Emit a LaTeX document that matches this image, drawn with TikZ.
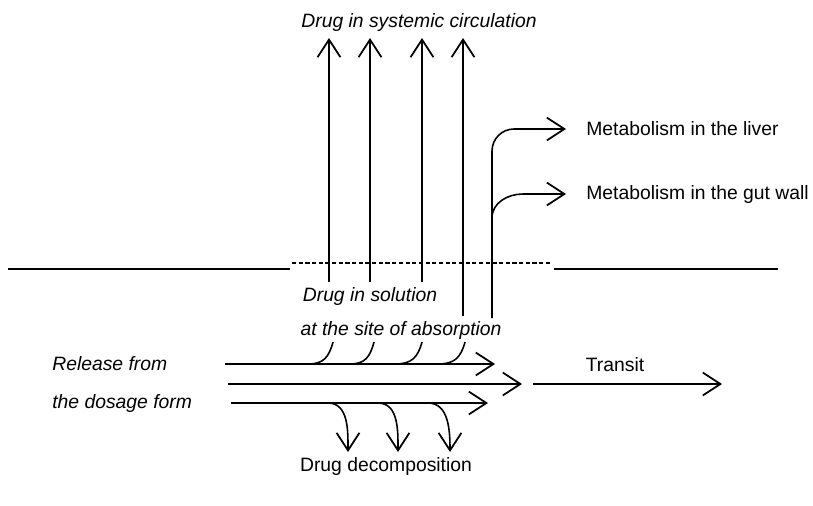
\documentclass[tikz,border=0pt]{standalone}
\usepackage{fontspec}
\setmainfont{Liberation Sans}
\usetikzlibrary{arrows.meta}

\begin{document}
\begin{tikzpicture}
[
x=0.02cm, y=-0.02cm,
flow/.style={line width=0.9pt,-{Straight Barb[length=10pt,width=13pt,line width=1pt]}},
hook/.style={line width=0.9pt},
membrane/.style={line width=1.5pt},
pore/.style={line width=0.8pt,dash pattern=on 2.4pt off 1.4pt},
lbl/.style={inner sep=0pt,font=\fontsize{11}{13}\selectfont},
ilbl/.style={inner sep=0pt,font=\fontsize{11}{13}\selectfont\itshape},
]
\useasboundingbox (0,0) rectangle (813,505);

%Place the nodes
\node[ilbl] (circ) at (419,22) {Drug in systemic circulation};
\node[lbl,anchor=west] (liver) at (586,129) {Metabolism in the liver};
\node[lbl,anchor=west] (gut) at (586,194) {Metabolism in the gut wall};
\node[ilbl] (sol) at (370,296) {Drug in solution};
\node[ilbl] (site) at (401,330) {at the site of absorption};
\node[ilbl,anchor=west] (rel) at (52,364) {Release from};
\node[ilbl,anchor=west] (dose) at (52,403) {the dosage form};
\node[lbl] (transit) at (615,365) {Transit};
\node[lbl] (decomp) at (386,466) {Drug decomposition};

%Membrane with its porous part
\draw[membrane] (8,269) -- (290,269);
\draw[pore] (292,263) -- (552,263);
\draw[membrane] (554,269) -- (778,269);

%Ends of the connections
\coordinate (lv0) at (492,318);
\coordinate (lv1) at (566,129);
\coordinate (gw0) at (492,218);
\coordinate (gw1) at (523,194);
\coordinate (gw2) at (566,194);
\coordinate (top0) at (225,364);
\coordinate (top1) at (495,364);
\coordinate (mid0) at (228,384);
\coordinate (mid1) at (522,384);
\coordinate (bot0) at (231,403);
\coordinate (bot1) at (488,403);
\coordinate (tr0) at (533,384);
\coordinate (tr1) at (722,384);

%Draw the connections
\foreach \x/\y [count=\i] in {329/282,370/282,422/282,463/316}{
  \coordinate (up\i) at (\x,\y);
  \coordinate (upt\i) at (\x,38);
  \draw[flow] (up\i) -- (upt\i);
}
\draw[flow,rounded corners=0.44cm] (lv0) |- (lv1);
\draw[flow] (gw0) to[out=90,in=180] (gw1) -- (gw2);
\draw[flow] (top0) -- (top1);
\draw[flow] (mid0) -- (mid1);
\draw[flow] (bot0) -- (bot1);
\draw[flow] (tr0) -- (tr1);
\foreach \a/\b [count=\i] in {308/333,350/374,395/422,438/465}{
  \coordinate (dis\i) at (\a,364);
  \coordinate (sit\i) at (\b,342);
  \draw[hook] (dis\i) to[out=0,in=-105,looseness=1.2] (sit\i);
}
\foreach \a/\b [count=\i] in {328/348,378/398,428/450}{
  \coordinate (dec\i) at (\a,403);
  \coordinate (dect\i) at (\b,452);
  \draw[flow] (dec\i) to[out=0,in=90] (dect\i);
}
\end{tikzpicture}
\end{document}
